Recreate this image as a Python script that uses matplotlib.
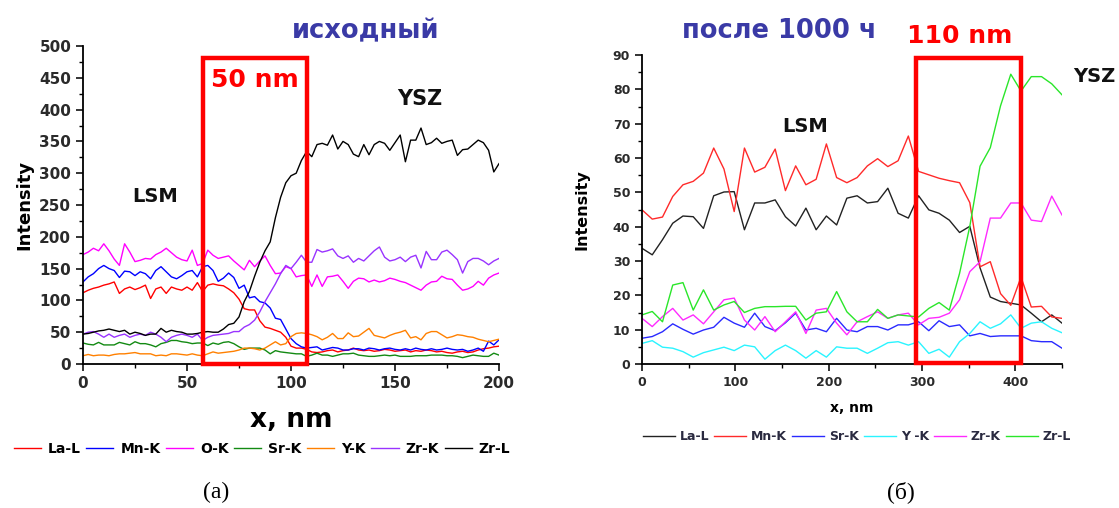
import numpy as np
import matplotlib
matplotlib.use("Agg")
import matplotlib.pyplot as plt
from matplotlib.patches import Rectangle
from matplotlib.ticker import MultipleLocator

plt.rcParams['font.family'] = ['DejaVu Sans']

# ---------------- (a) initial state: 0..200 nm, step 2.5 nm ----------------
x_a = np.arange(0, 200.01, 2.5)

la_l_a = [112, 116, 119, 121, 124, 126, 129, 111, 118, 121, 117, 120, 124, 103, 118, 121, 111,
          121, 118, 116, 121, 116, 128, 114, 124, 126, 124, 123, 118, 112, 102, 87, 85, 85, 68,
          58, 56, 53, 50, 42, 28, 25, 25, 23, 19, 18, 19, 21, 22, 19, 21, 22, 25, 22, 21, 22,
          20, 21, 23, 22, 20, 21, 22, 19, 21, 20, 22, 21, 19, 20, 18, 17, 19, 20, 18, 19, 22,
          24, 25, 27, 28]
mn_k_a = [129, 137, 142, 150, 155, 150, 147, 136, 146, 145, 139, 145, 142, 134, 147, 153, 145,
          137, 134, 139, 145, 147, 137, 153, 155, 147, 130, 135, 143, 136, 119, 124, 104, 106,
          98, 96, 88, 72, 70, 55, 40, 32, 27, 25, 26, 27, 22, 24, 26, 25, 22, 22, 24, 24, 22,
          25, 24, 22, 24, 25, 23, 22, 24, 22, 25, 23, 22, 24, 22, 23, 25, 23, 22, 23, 20, 22,
          25, 20, 36, 30, 38]
o_k_a = [172, 176, 182, 178, 189, 178, 165, 155, 189, 176, 161, 163, 166, 165, 172, 176, 182,
         175, 168, 164, 162, 179, 155, 158, 179, 171, 166, 168, 170, 162, 155, 148, 163, 153,
         162, 170, 155, 142, 143, 153, 150, 137, 139, 140, 122, 140, 122, 137, 138, 140, 130,
         119, 130, 135, 134, 129, 132, 129, 131, 135, 133, 130, 128, 124, 120, 116, 124, 129,
         130, 138, 134, 133, 124, 116, 118, 122, 130, 124, 135, 140, 143]
sr_k_a = [33, 31, 30, 34, 30, 30, 30, 34, 32, 30, 35, 32, 32, 30, 27, 32, 34, 37, 37, 35, 34,
          32, 33, 33, 29, 33, 31, 34, 35, 32, 27, 23, 25, 25, 25, 22, 16, 21, 19, 18, 17, 16,
          16, 12, 14, 17, 14, 14, 12, 14, 16, 16, 17, 14, 13, 12, 12, 13, 14, 13, 14, 12, 12,
          12, 13, 13, 13, 14, 14, 14, 13, 13, 12, 10, 12, 14, 13, 12, 12, 17, 14]
y_k_a = [13, 15, 13, 14, 14, 13, 15, 16, 16, 17, 18, 16, 16, 16, 13, 14, 13, 16, 16, 15, 14,
         16, 14, 13, 16, 19, 17, 18, 19, 20, 22, 25, 25, 24, 22, 25, 30, 35, 30, 32, 43, 48,
         49, 48, 46, 43, 38, 42, 48, 40, 40, 49, 43, 44, 50, 56, 45, 43, 41, 45, 48, 50, 53,
         41, 43, 38, 48, 51, 51, 46, 41, 43, 46, 45, 43, 42, 39, 37, 35, 37, 39]
zr_k_a = [47, 50, 51, 47, 42, 47, 42, 45, 47, 42, 45, 47, 45, 50, 47, 42, 35, 42, 45, 47, 45,
          42, 47, 37, 42, 45, 46, 47, 48, 51, 51, 58, 62, 69, 82, 98, 112, 126, 142, 155, 150,
          160, 171, 160, 160, 180, 176, 178, 181, 170, 166, 170, 160, 166, 162, 170, 178, 184,
          168, 162, 164, 168, 161, 168, 171, 151, 177, 164, 164, 176, 179, 172, 164, 143, 161,
          166, 166, 162, 156, 162, 166]
zr_l_a = [47, 48, 50, 52, 53, 55, 53, 51, 53, 47, 50, 48, 45, 47, 47, 56, 50, 53, 51, 50, 47,
          47, 48, 50, 51, 50, 50, 55, 62, 64, 74, 98, 114, 138, 160, 178, 192, 230, 262, 285,
          296, 300, 320, 334, 326, 345, 347, 344, 360, 338, 350, 345, 330, 326, 345, 329, 345,
          350, 347, 336, 348, 360, 318, 352, 352, 371, 345, 348, 355, 347, 350, 352, 328, 337,
          338, 345, 352, 348, 336, 302, 315]

series_a = [("La-L", la_l_a, "#ff0000"), ("Mn-K", mn_k_a, "#0000ff"),
            ("O-K", o_k_a, "#ff00ff"), ("Sr-K", sr_k_a, "#138a13"),
            ("Y-K", y_k_a, "#ff8000"), ("Zr-K", zr_k_a, "#9933ff"),
            ("Zr-L", zr_l_a, "#000000")]
box_a = (57.5, 107.5, 481)

# ---------------- (б) after 1000 h: 0..450 nm, 42 points ----------------
x_b = np.linspace(0, 450, 42)

la_l_b = [33.7, 31.8, 36.2, 41.0, 43.1, 42.9, 39.5, 49.0, 50.1, 50.2, 39.1, 46.9, 46.9, 47.8,
          42.9, 40.2, 45.4, 39.1, 43.1, 40.5, 48.3, 49.0, 46.9, 47.3, 51.2, 43.9, 42.5, 49.0,
          44.9, 43.9, 41.9, 38.3, 40.1, 28.0, 19.5, 18.2, 17.7, 17.2, 14.8, 12.3, 14.3, 11.9]
mn_k_b = [44.9, 42.2, 42.8, 48.8, 52.2, 53.2, 55.6, 62.9, 56.8, 44.4, 62.9, 55.9, 57.3, 62.6,
          50.5, 57.7, 52.2, 53.8, 64.1, 54.3, 52.8, 54.3, 57.7, 59.8, 57.5, 59.2, 66.4, 56.1,
          55.1, 54.1, 53.4, 52.8, 47.0, 28.3, 29.8, 20.5, 17.1, 25.3, 16.6, 16.8, 13.7, 13.3]
sr_k_b = [7.5, 8.0, 9.4, 11.7, 10.1, 8.7, 9.9, 10.7, 13.6, 11.9, 10.7, 14.8, 10.9, 9.7, 12.0,
          14.8, 9.9, 10.4, 9.4, 13.3, 9.9, 9.4, 10.9, 10.9, 9.9, 11.4, 11.4, 12.3, 9.7, 12.6,
          10.9, 11.4, 8.2, 8.9, 8.0, 8.2, 8.2, 8.2, 6.8, 6.5, 6.5, 4.6]
y_k_b = [6.0, 6.8, 4.9, 4.6, 3.6, 2.0, 3.3, 4.1, 4.9, 3.9, 5.5, 5.0, 1.4, 3.9, 5.5, 3.9, 1.7,
         3.9, 2.0, 5.0, 4.6, 4.6, 3.1, 4.6, 6.2, 6.5, 5.5, 6.5, 3.1, 4.3, 2.0, 6.5, 8.9, 12.3,
         10.4, 11.7, 14.3, 10.4, 11.9, 12.3, 10.4, 9.1]
zr_k_b = [13.3, 10.9, 13.8, 16.2, 12.8, 14.3, 11.7, 15.2, 18.7, 19.2, 12.8, 9.9, 13.8, 9.4,
          12.3, 15.2, 8.9, 15.7, 16.2, 11.9, 8.5, 12.3, 13.8, 15.2, 13.3, 14.3, 14.8, 11.4,
          13.3, 13.6, 14.8, 18.7, 26.9, 29.8, 42.5, 42.5, 46.9, 46.9, 41.9, 41.5, 48.9, 43.4]
zr_l_b = [14.3, 15.3, 12.3, 23.0, 23.7, 15.7, 21.6, 15.7, 17.2, 18.2, 15.0, 16.2, 16.7, 16.7,
          16.8, 16.8, 12.8, 14.8, 15.2, 21.1, 15.2, 12.3, 12.3, 15.9, 13.3, 14.3, 14.0, 13.7,
          16.2, 17.9, 15.7, 26.4, 40.1, 57.6, 63.0, 75.2, 84.4, 79.5, 83.7, 83.7, 81.6, 78.4]

series_b = [("La-L", la_l_b, "#222222"), ("Mn-K", mn_k_b, "#ff2a2a"),
            ("Sr-K", sr_k_b, "#2a2aff"), ("Y -K", y_k_b, "#2af4ff"),
            ("Zr-K", zr_k_b, "#ff2aff"), ("Zr-L", zr_l_b, "#2ae62a")]
box_b = (294, 406, 89.2)

W, H = 1119, 508
fig = plt.figure(figsize=(W / 100, H / 100), dpi=100)


def frac(px, py):
    return px / W, 1 - py / H


def style_axes(ax, size, tick_len):
    for s in ("top", "right"):
        ax.spines[s].set_visible(False)
    for s in ("left", "bottom"):
        ax.spines[s].set_linewidth(1.3)
    ax.tick_params(which="major", direction="out", length=tick_len, width=1.2,
                   labelsize=size, colors="#111111")
    ax.tick_params(which="minor", direction="out", length=tick_len * 0.6, width=1.0)
    for lab in ax.get_xticklabels() + ax.get_yticklabels():
        lab.set_fontweight("bold")
        lab.set_color("#2a2a2a")


# ---- panel (a)
ax1 = fig.add_axes([83 / W, (H - 364) / H, 416 / W, 318 / H])
for name, vals, col in series_a:
    ax1.plot(x_a, vals, color=col, lw=1.0, label=name)
ax1.set_xlim(0, 200)
ax1.set_ylim(0, 500)
ax1.xaxis.set_major_locator(MultipleLocator(50))
ax1.xaxis.set_minor_locator(MultipleLocator(25))
ax1.yaxis.set_major_locator(MultipleLocator(50))
ax1.yaxis.set_minor_locator(MultipleLocator(25))
style_axes(ax1, 11, 5)
ax1.add_patch(Rectangle((box_a[0], 0), box_a[1] - box_a[0], box_a[2], fill=False,
                        edgecolor="#ff0000", lw=3.2, clip_on=False, zorder=5))
ax1.set_xlabel("x, nm", fontsize=19, fontweight="bold", labelpad=12)
ax1.set_ylabel("Intensity", fontsize=13, fontweight="bold", labelpad=4)

# ---- panel (б)
ax2 = fig.add_axes([642 / W, (H - 364) / H, 420 / W, 309 / H])
for name, vals, col in series_b:
    ax2.plot(x_b, vals, color=col, lw=1.0, label=name)
ax2.set_xlim(0, 450)
ax2.set_ylim(0, 90)
ax2.xaxis.set_major_locator(MultipleLocator(100))
ax2.xaxis.set_minor_locator(MultipleLocator(50))
ax2.yaxis.set_major_locator(MultipleLocator(10))
ax2.yaxis.set_minor_locator(MultipleLocator(5))
style_axes(ax2, 9, 5)
ax2.add_patch(Rectangle((box_b[0], 0.4), box_b[1] - box_b[0], box_b[2] - 0.4, fill=False,
                        edgecolor="#ff0000", lw=3.2, clip_on=False, zorder=5))
ax2.set_xlabel("x, nm", fontsize=10, fontweight="bold", labelpad=9)
ax2.set_ylabel("Intensity", fontsize=11.5, fontweight="bold", labelpad=17)

# ---- annotations
title_col = "#3a3aa6"
fig.text(*frac(366, 31), "исходный", color=title_col, fontsize=18.5, fontweight="bold",
         ha="center", va="center")
fig.text(*frac(779, 31), "после 1000 ч", color=title_col, fontsize=18.5, fontweight="bold",
         ha="center", va="center")
fig.text(*frac(255, 80), "50 nm", color="#ff0000", fontsize=18, fontweight="bold",
         ha="center", va="center")
fig.text(*frac(960, 36), "110 nm", color="#ff0000", fontsize=18, fontweight="bold",
         ha="center", va="center")
fig.text(*frac(420, 99), "YSZ", color="#111111", fontsize=15, fontweight="bold",
         ha="center", va="center")
fig.text(*frac(155, 196), "LSM", color="#111111", fontsize=14, fontweight="bold",
         ha="center", va="center")
fig.text(*frac(805, 126), "LSM", color="#111111", fontsize=14, fontweight="bold",
         ha="center", va="center")
fig.text(*frac(1094, 76), "YSZ", color="#111111", fontsize=14, fontweight="bold",
         ha="center", va="center")

# ---- legends
h1, l1 = ax1.get_legend_handles_labels()
fig.legend(h1, l1, loc="center", bbox_to_anchor=frac(262, 449), ncol=7,
           frameon=False, handlelength=1.95, handletextpad=0.5, columnspacing=0.4,
           borderpad=0, prop={"weight": "bold", "size": 10})
h2, l2 = ax2.get_legend_handles_labels()
leg2 = fig.legend(h2, l2, loc="center", bbox_to_anchor=frac(857, 437), ncol=6,
                  frameon=False, handlelength=2.55, handletextpad=0.4, columnspacing=0.4,
                  borderpad=0, prop={"weight": "bold", "size": 9})
for t in leg2.get_texts():
    t.set_color("#2a2a40")

fig.text(*frac(216, 492), "(a)", fontsize=17, family=["Liberation Serif", "DejaVu Serif"],
         ha="center", va="center")
fig.text(*frac(901, 492), "(б)", fontsize=17, family=["Liberation Serif", "DejaVu Serif"],
         ha="center", va="center")

fig.savefig("out.png", dpi=100, facecolor="white")
